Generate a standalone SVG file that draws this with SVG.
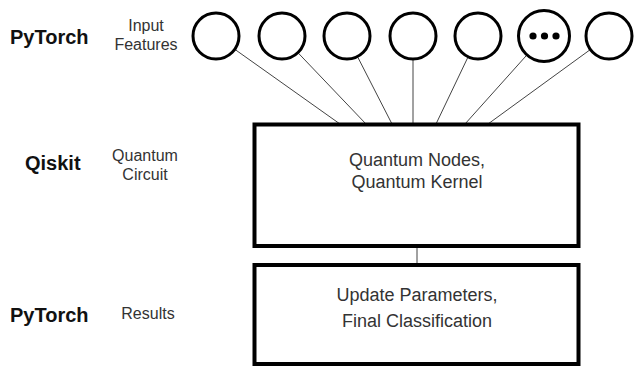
<svg xmlns="http://www.w3.org/2000/svg" width="635" height="366" viewBox="0 0 635 366">
<style>
.bg{fill:#ffffff}
.lbl{font-family:"Liberation Sans",Arial,sans-serif;font-weight:bold;font-size:20px;fill:#111}
.sub{font-family:"Liberation Sans",Arial,sans-serif;font-size:16px;fill:#333;text-anchor:middle}
.box{fill:#ffffff;stroke:#000;stroke-width:4}
.btxt{font-family:"Liberation Sans",Arial,sans-serif;font-size:18px;fill:#333;text-anchor:middle}
.node{fill:#ffffff;stroke:#000;stroke-width:3}
.conn{stroke:#444;stroke-width:1;fill:none}
</style>
<rect class="bg" x="0" y="0" width="635" height="366"/>
<g id="side-labels">
<text class="lbl" x="10" y="44">PyTorch</text>
<text class="sub" x="146" y="31">Input</text>
<text class="sub" x="146" y="50">Features</text>
<text class="lbl" x="25" y="170">Qiskit</text>
<text class="sub" x="145" y="161">Quantum</text>
<text class="sub" x="145" y="180">Circuit</text>
<text class="lbl" x="10" y="322">PyTorch</text>
<text class="sub" x="148" y="319">Results</text>
</g>
<g id="connectors">
<line class="conn" x1="235.6" y1="49.9" x2="340" y2="124"/>
<line class="conn" x1="298.6" y1="53.4" x2="366" y2="124"/>
<line class="conn" x1="357.9" y1="57.4" x2="392" y2="124"/>
<line class="conn" x1="413" y1="60" x2="413" y2="124"/>
<line class="conn" x1="467.7" y1="57.7" x2="436" y2="124"/>
<line class="conn" x1="526.6" y1="55.3" x2="465" y2="124"/>
<line class="conn" x1="589.6" y1="50.1" x2="488" y2="124"/>
<line class="conn" x1="417" y1="246" x2="417" y2="265" stroke-width="1.5"/>
</g>
<g id="input1"><circle class="node" cx="216" cy="36" r="23"/></g>
<g id="input2"><circle class="node" cx="282" cy="36" r="23"/></g>
<g id="input3"><circle class="node" cx="347" cy="36" r="23"/></g>
<g id="input4"><circle class="node" cx="413" cy="36" r="23"/></g>
<g id="input5"><circle class="node" cx="478" cy="36" r="23"/></g>
<g id="input-ellipsis">
<circle class="node" cx="544" cy="36" r="25.5" stroke-width="2.5"/>
<circle cx="533" cy="36" r="3.6" fill="#000"/>
<circle cx="544.5" cy="36" r="3.6" fill="#000"/>
<circle cx="556" cy="36" r="3.6" fill="#000"/>
</g>
<g id="input7"><circle class="node" cx="609" cy="36" r="23"/></g>
<g id="quantum">
<rect class="box" x="254.5" y="124.5" width="324" height="121.5"/>
<text class="btxt" x="417" y="166">Quantum Nodes,</text>
<text class="btxt" x="417" y="188">Quantum Kernel</text>
</g>
<g id="results">
<rect class="box" x="254.5" y="265" width="324" height="99"/>
<text class="btxt" x="417" y="301">Update Parameters,</text>
<text class="btxt" x="417" y="327">Final Classification</text>
</g>
</svg>
